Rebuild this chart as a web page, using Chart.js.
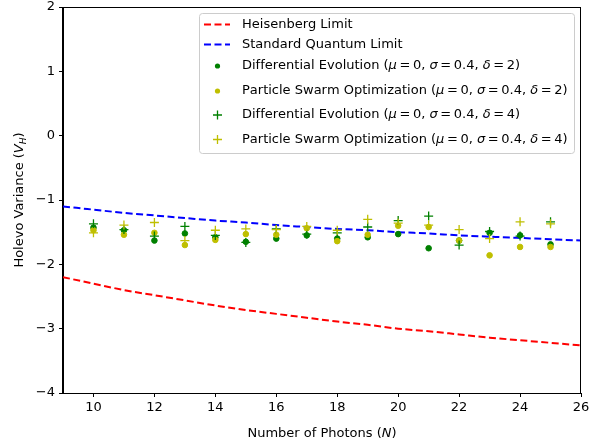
<!DOCTYPE html>
<html>
<head>
<meta charset="utf-8">
<script src="https://cdn.jsdelivr.net/npm/chart.js@4.4.0/dist/chart.umd.min.js"></script>
<style>
  html, body { margin: 0; padding: 0; background: #fff; }
</style>
</head>
<body>
<canvas id="chart" width="590" height="444"></canvas>
<script>
// limit curves, read at each integer N
const limitN = [9, 10, 11, 12, 13, 14, 15, 16, 17, 18, 19, 20, 21, 22, 23, 24, 25, 26]
const heisenberg = [-2.20, -2.30, -2.40, -2.48, -2.56, -2.64, -2.71, -2.77, -2.83, -2.89, -2.94, -3.00, -3.04, -3.09, -3.14, -3.18, -3.22, -3.26]
const standardLimit = [-1.10, -1.15, -1.20, -1.24, -1.28, -1.32, -1.35, -1.39, -1.42, -1.45, -1.47, -1.50, -1.52, -1.55, -1.57, -1.59, -1.61, -1.63]

// optimizer results
const photons = [10, 11, 12, 13, 14, 15, 16, 17, 18, 19, 20, 21, 22, 23, 24, 25]
const de2 = [-1.43, -1.47, -1.63, -1.52, -1.58, -1.65, -1.60, -1.55, -1.60, -1.58, -1.53, -1.75, -1.63, -1.51, -1.55, -1.69]
const pso2 = [-1.47, -1.54, -1.51, -1.70, -1.62, -1.53, -1.54, -1.44, -1.64, -1.54, -1.40, -1.42, -1.63, -1.86, -1.73, -1.73]
const de4 = [-1.37, -1.46, -1.56, -1.41, -1.55, -1.66, -1.45, -1.53, -1.51, -1.42, -1.32, -1.25, -1.70, -1.49, -1.56, -1.34]
const pso4 = [-1.51, -1.39, -1.35, -1.63, -1.47, -1.45, -1.46, -1.41, -1.47, -1.30, -1.36, -1.39, -1.46, -1.60, -1.34, -1.37]

const xTicks = [10, 12, 14, 16, 18, 20, 22, 24, 26]
const yTicks = [-4, -3, -2, -1, 0, 1, 2]

const FONT = `'DejaVu Sans', sans-serif`
const GREEN = `#008000`
const OLIVE = `#bfbf00`
const T = `\u2009`

const pts = (xs, ys) => xs.map((x, i) => ({ x: x, y: ys[i] }))

const lineSet = (label, ys, color, order) => ({
  label, order, data: pts(limitN, ys),
  showLine: true, borderColor: color, borderWidth: 2, borderDash: [7, 3.5],
  cubicInterpolationMode: `monotone`, pointRadius: 0, fill: false
})

const markSet = (label, ys, color, style, order) => ({
  label, order, data: pts(photons, ys), kind: style,
  pointStyle: style == `dot` ? `circle` : `cross`,
  pointRadius: style == `dot` ? 2.8 : 4.5,
  borderWidth: style == `dot` ? 1 : 1.3,
  backgroundColor: color, borderColor: color
})

// draw a string where greek letters are italic
function richText(ctx, str, x, y, size) {
  let cx = x
  for (const ch of str) {
    const italic = /[μσδ]/.test(ch)
    ctx.font = (italic ? `italic ` : ``) + size + `px ` + FONT
    ctx.fillText(ch, cx, y)
    cx += ctx.measureText(ch).width
  }
}

function parts(ctx, list, x, y) {
  let cx = x
  list.forEach(p => {
    ctx.font = p.font
    ctx.fillText(p.t, cx, y + (p.dy || 0))
    cx += ctx.measureText(p.t).width
  })
}

function partsWidth(ctx, list) {
  return list.reduce((w, p) => { ctx.font = p.font; return w + ctx.measureText(p.t).width }, 0)
}

const decor = {
  id: `decor`,
  afterDraw(chart) {
    const ctx = chart.ctx
    const a = chart.chartArea
    ctx.save()

    // frame
    ctx.strokeStyle = `#000`
    ctx.lineWidth = 1
    ctx.strokeRect(Math.round(a.left) - 0.5, Math.round(a.top) + 0.5, Math.round(a.right - a.left), Math.round(a.bottom - a.top))

    ctx.fillStyle = `#000`
    ctx.textBaseline = `alphabetic`

    // x title
    const xt = [
      { t: `Number of Photons (`, font: `13px ` + FONT },
      { t: `N`, font: `italic 13px ` + FONT },
      { t: `)`, font: `13px ` + FONT }
    ]
    parts(ctx, xt, (a.left + a.right) / 2 - partsWidth(ctx, xt) / 2, 437)

    // y title
    const yt = [
      { t: `Holevo Variance (`, font: `13px ` + FONT },
      { t: `V`, font: `italic 13px ` + FONT },
      { t: `H`, font: `italic 9px ` + FONT, dy: 2.5 },
      { t: `)`, font: `13px ` + FONT }
    ]
    ctx.save()
    ctx.translate(23, (a.top + a.bottom) / 2)
    ctx.rotate(-Math.PI / 2)
    parts(ctx, yt, -partsWidth(ctx, yt) / 2, 0)
    ctx.restore()

    // legend
    const bx = 199.5, by = 13.5, bw = 375, bh = 140
    ctx.beginPath()
    ctx.roundRect(bx, by, bw, bh, 3)
    ctx.fillStyle = `rgba(255,255,255,0.8)`
    ctx.fill()
    ctx.strokeStyle = `#cccccc`
    ctx.stroke()

    const rows = [24.5, 44.5, 66, 91, 115, 139.5]
    chart.data.datasets.forEach((ds, i) => {
      const y = rows[i]
      ctx.strokeStyle = ds.borderColor
      ctx.fillStyle = ds.borderColor
      if (ds.showLine) {
        ctx.lineWidth = 2
        ctx.setLineDash([7, 3.5])
        ctx.beginPath()
        ctx.moveTo(204, y)
        ctx.lineTo(230, y)
        ctx.stroke()
        ctx.setLineDash([])
      } else if (ds.kind == `dot`) {
        ctx.beginPath()
        ctx.arc(217.5, y, 2.6, 0, Math.PI * 2)
        ctx.fill()
      } else {
        ctx.lineWidth = 1.3
        ctx.beginPath()
        ctx.moveTo(213, y); ctx.lineTo(222, y)
        ctx.moveTo(217.5, y - 4.5); ctx.lineTo(217.5, y + 4.5)
        ctx.stroke()
      }
      ctx.fillStyle = `#000`
      ctx.textBaseline = `middle`
      richText(ctx, ds.label, 242, y, 13)
    })

    ctx.restore()
  }
}

new Chart(document.querySelector(`#chart`).getContext(`2d`), {
  type: `scatter`,
  data: {
    datasets: [
      lineSet(`Heisenberg Limit`, heisenberg, `#ff0000`, 6),
      lineSet(`Standard Quantum Limit`, standardLimit, `#0000ff`, 5),
      markSet(`Differential Evolution (μ${T}=${T}0, σ${T}=${T}0.4, δ${T}=${T}2)`, de2, GREEN, `dot`, 4),
      markSet(`Particle Swarm Optimization (μ${T}=${T}0, σ${T}=${T}0.4, δ${T}=${T}2)`, pso2, OLIVE, `dot`, 3),
      markSet(`Differential Evolution (μ${T}=${T}0, σ${T}=${T}0.4, δ${T}=${T}4)`, de4, GREEN, `plus`, 2),
      markSet(`Particle Swarm Optimization (μ${T}=${T}0, σ${T}=${T}0.4, δ${T}=${T}4)`, pso4, OLIVE, `plus`, 1)
    ]
  },
  options: {
    responsive: false,
    animation: false,
    devicePixelRatio: 1,
    layout: { padding: { top: 7, right: 9, left: 0, bottom: 0 } },
    plugins: { legend: { display: false }, tooltip: { enabled: false } },
    scales: {
      x: {
        type: `linear`, min: 9, max: 26,
        afterBuildTicks: s => { s.ticks = xTicks.map(v => ({ value: v })) },
        afterFit: s => { s.height = 51; s.paddingLeft = 0; s.paddingRight = 0 },
        ticks: { font: { family: FONT, size: 13 }, color: `#000`, padding: 3, maxRotation: 0 },
        grid: { drawOnChartArea: false, tickLength: 4, tickColor: `#000` },
        border: { display: true, color: `#000` }
      },
      y: {
        type: `linear`, min: -4, max: 2,
        afterBuildTicks: s => { s.ticks = yTicks.map(v => ({ value: v })) },
        afterFit: s => { s.width = 63; s.paddingTop = 0; s.paddingBottom = 0 },
        ticks: {
          font: { family: FONT, size: 13 }, color: `#000`, padding: 4,
          callback: v => v < 0 ? `\u2212` + Math.abs(v) : `` + v
        },
        grid: { drawOnChartArea: false, tickLength: 4, tickColor: `#000` },
        border: { display: true, color: `#000` }
      }
    }
  },
  plugins: [decor]
})
</script>
</body>
</html>
